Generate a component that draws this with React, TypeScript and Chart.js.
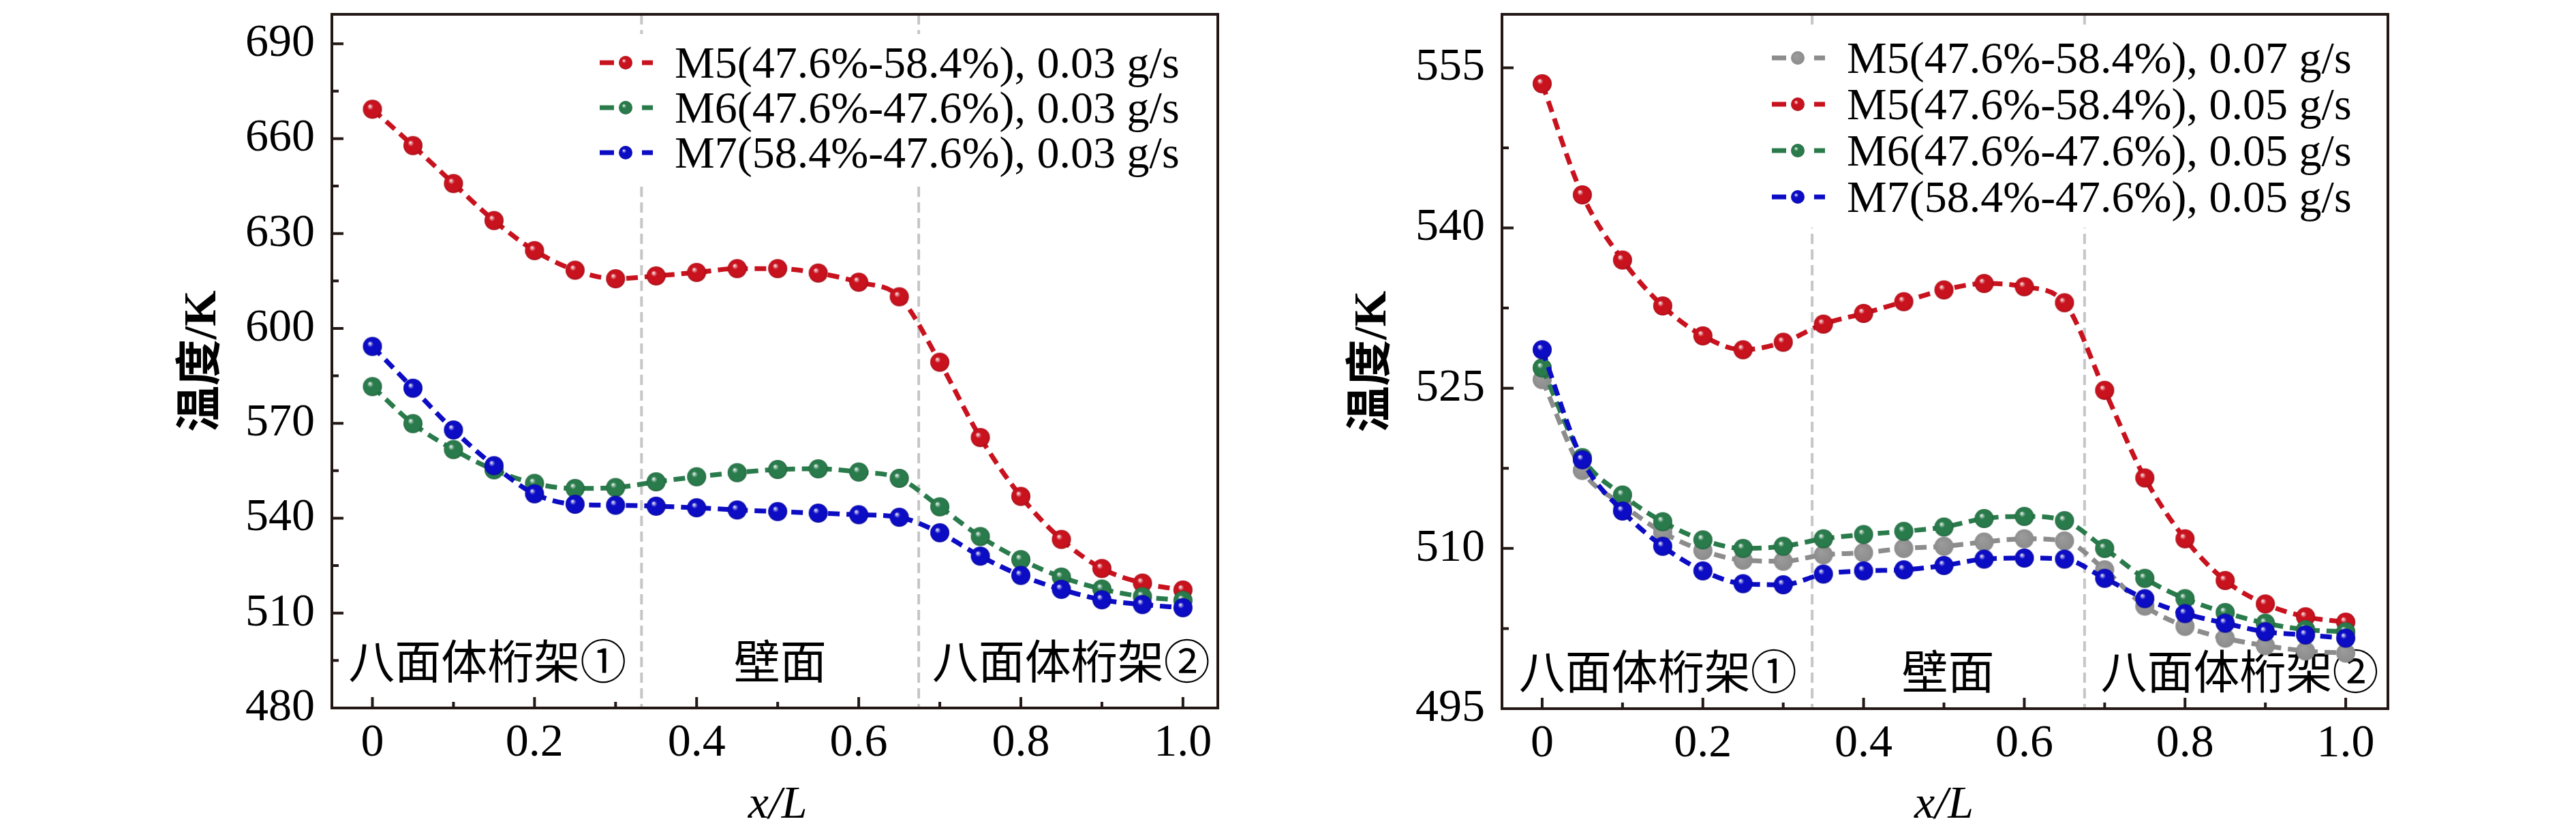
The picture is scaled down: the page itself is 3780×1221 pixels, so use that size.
import React, { useEffect, useRef } from 'react';
import { Chart, registerables } from 'chart.js';

Chart.register(...registerables);

const W = 1890;
const H = 1221;
const FONT = "'Liberation Serif', 'Times New Roman', 'Noto Sans CJK SC', serif";

// x/L positions of the sampled points
const xValues = [0, 0.05, 0.1, 0.15, 0.2, 0.25, 0.3, 0.35, 0.4, 0.45, 0.5, 0.55, 0.6, 0.65, 0.7, 0.75, 0.8, 0.85, 0.9, 0.95, 1.0];

// Left panel (0.03 g/s)
const leftM5 = [669.3, 657.8, 645.8, 634.1, 624.6, 618.4, 615.7, 616.6, 617.7, 618.9, 618.9, 617.5, 614.6, 610.0, 589.3, 565.5, 546.9, 533.3, 524.1, 519.5, 517.3];
const leftM6 = [581.6, 569.9, 561.7, 555.3, 551.0, 549.4, 549.7, 551.5, 553.1, 554.4, 555.4, 555.6, 554.6, 552.6, 543.6, 534.2, 526.9, 521.4, 517.6, 515.2, 514.0];
const leftM7 = [594.3, 581.1, 567.9, 556.6, 547.7, 544.4, 544.1, 543.8, 543.3, 542.6, 542.1, 541.6, 541.1, 540.3, 535.4, 528.0, 521.9, 517.5, 514.2, 512.7, 511.7];

// Right panel
const rightM5g07 = [525.8, 517.3, 514.1, 511.5, 509.8, 508.9, 508.8, 509.4, 509.6, 510.0, 510.2, 510.6, 510.9, 510.7, 508.0, 504.6, 502.7, 501.6, 500.9, 500.4, 500.2];
const rightM5 = [553.5, 543.1, 537.0, 532.7, 529.9, 528.6, 529.3, 531.0, 532.0, 533.1, 534.2, 534.8, 534.5, 533.0, 524.8, 516.6, 510.9, 507.0, 504.8, 503.6, 503.1];
const rightM6 = [526.9, 518.5, 515.0, 512.5, 510.8, 510.0, 510.2, 510.9, 511.3, 511.6, 512.0, 512.8, 513.0, 512.6, 510.0, 507.2, 505.3, 504.0, 503.0, 502.4, 502.2];
const rightM7 = [528.6, 518.3, 513.5, 510.2, 507.9, 506.7, 506.6, 507.6, 507.9, 508.0, 508.4, 509.0, 509.1, 509.0, 507.2, 505.3, 503.9, 503.0, 502.2, 501.9, 501.6];

const leftLabels = ['M5(47.6%-58.4%), 0.03 g/s', 'M6(47.6%-47.6%), 0.03 g/s', 'M7(58.4%-47.6%), 0.03 g/s'];
const rightLabels = ['M5(47.6%-58.4%), 0.07 g/s', 'M5(47.6%-58.4%), 0.05 g/s', 'M6(47.6%-47.6%), 0.05 g/s', 'M7(58.4%-47.6%), 0.05 g/s'];

const xTicks = [0, 0.2, 0.4, 0.6, 0.8, 1.0];
const leftYTicks = [480, 510, 540, 570, 600, 630, 660, 690];
const rightYTicks = [495, 510, 525, 540, 555];

const regionNames = ['八面体桁架①', '壁面', '八面体桁架②'];
const leftRegionX = [0.142, 0.503, 0.862];
const rightRegionX = [0.144, 0.505, 0.868];
const leftBoundaries = [0.332, 0.674];
const rightBoundaries = [0.336, 0.675];

const yTitle = '温度/K';
const xTitle = 'x/L';

const RED = '#c8121e';
const GREEN = '#2a7b4c';
const BLUE = '#0c0cc4';
const GRAY = '#8c8c8c';
const AXIS = '#231815';

function shade(hex: string, f: number): string {
  const n = parseInt(hex.slice(1), 16);
  const r = (n >> 16) & 255, g = (n >> 8) & 255, b = n & 255;
  const m = (v: number) => Math.max(0, Math.min(255, Math.round(f < 1 ? v * f : v + (255 - v) * (f - 1))));
  return `rgb(${m(r)},${m(g)},${m(b)})`;
}

function makeBall(color: string, r: number, highlight: boolean): HTMLCanvasElement {
  const c = document.createElement('canvas');
  const s = Math.ceil(r * 2 + 2);
  c.width = s;
  c.height = s;
  const ctx = c.getContext('2d')!;
  const cx = s / 2, cy = s / 2;
  const g = ctx.createRadialGradient(cx - r * 0.3, cy - r * 0.35, 0, cx, cy, r);
  if (highlight) {
    g.addColorStop(0, '#ffffff');
    g.addColorStop(0.16, shade(color, 1.5));
    g.addColorStop(0.32, color);
    g.addColorStop(0.85, color);
    g.addColorStop(1, shade(color, 0.8));
  } else {
    g.addColorStop(0, shade(color, 1.15));
    g.addColorStop(1, color);
  }
  ctx.fillStyle = g;
  ctx.beginPath();
  ctx.arc(cx, cy, r, 0, Math.PI * 2);
  ctx.fill();
  return c;
}

interface SeriesDef { label: string; values: number[]; color: string; order: number; highlight: boolean }

interface PanelDef {
  series: SeriesDef[];
  yMin: number; yMax: number; yTicks: number[];
  xMin: number; xMax: number;
  plotLeft: number; plotRight: number; plotTop: number; plotBottom: number;
  boundaries: number[];
  regionX: number[]; regionPixY: number;
  legendCapTop: number; legendStep: number; legendRightOffset: number;
}

function minorsOf(ticks: number[]): number[] {
  const out: number[] = [];
  for (let i = 0; i < ticks.length - 1; i++) out.push((ticks[i] + ticks[i + 1]) / 2);
  return out;
}

function makeDecor(p: PanelDef) {
  return {
    id: 'decor',
    beforeDatasetsDraw(chart: any) {
      const { ctx, chartArea: a, scales } = chart;
      const x = scales.x;
      ctx.save();
      ctx.strokeStyle = '#c6c6c6';
      ctx.lineWidth = 4;
      ctx.setLineDash([15, 8]);
      for (const b of p.boundaries) {
        const px = x.getPixelForValue(b);
        ctx.beginPath();
        ctx.moveTo(px, a.top);
        ctx.lineTo(px, a.bottom);
        ctx.stroke();
      }
      ctx.setLineDash([]);
      ctx.font = `68px ${FONT}`;
      ctx.fillStyle = '#000';
      ctx.textAlign = 'center';
      ctx.textBaseline = 'middle';
      regionNames.forEach((t, i) => {
        ctx.fillText(t, x.getPixelForValue(p.regionX[i]), p.regionPixY);
      });
      ctx.restore();
    },
    afterDatasetsDraw(chart: any) {
      const { ctx, chartArea: a, scales } = chart;
      const x = scales.x, y = scales.y;
      ctx.save();
      // legend
      const n = p.series.length;
      const cx = a.right - p.legendRightOffset;
      const firstCap = a.top + p.legendCapTop;
      const lastCap = firstCap + (n - 1) * p.legendStep;
      ctx.fillStyle = '#ffffff';
      ctx.fillRect(cx - 50, firstCap - 42, a.right - 8 - (cx - 50), lastCap + 45 - (firstCap - 42));
      ctx.font = `66px ${FONT}`;
      ctx.textAlign = 'left';
      ctx.textBaseline = 'alphabetic';
      p.series.forEach((s, i) => {
        const ry = firstCap + i * p.legendStep;
        ctx.strokeStyle = s.color;
        ctx.lineWidth = 7;
        ctx.beginPath();
        ctx.moveTo(cx - 38, ry); ctx.lineTo(cx - 17, ry);
        ctx.moveTo(cx + 24, ry); ctx.lineTo(cx + 40, ry);
        ctx.stroke();
        const ball = makeBall(s.color, 10, s.highlight);
        ctx.drawImage(ball, cx - ball.width / 2, ry - ball.height / 2);
        ctx.fillStyle = '#000';
        ctx.fillText(s.label, cx + 72, ry + 22);
      });
      // frame
      ctx.strokeStyle = AXIS;
      ctx.lineWidth = 4;
      ctx.strokeRect(a.left, a.top, a.right - a.left, a.bottom - a.top);
      // inward ticks
      ctx.beginPath();
      for (const v of xTicks) { const px = x.getPixelForValue(v); ctx.moveTo(px, a.bottom); ctx.lineTo(px, a.bottom - 16); }
      for (const v of minorsOf(xTicks)) { const px = x.getPixelForValue(v); ctx.moveTo(px, a.bottom); ctx.lineTo(px, a.bottom - 9); }
      for (const v of p.yTicks) { const py = y.getPixelForValue(v); ctx.moveTo(a.left, py); ctx.lineTo(a.left + 17, py); }
      for (const v of minorsOf(p.yTicks)) { const py = y.getPixelForValue(v); ctx.moveTo(a.left, py); ctx.lineTo(a.left + 10, py); }
      ctx.stroke();
      // axis titles
      ctx.fillStyle = '#000';
      ctx.textAlign = 'center';
      ctx.textBaseline = 'middle';
      ctx.save();
      ctx.translate(a.left - 189, (a.top + a.bottom) / 2);
      ctx.rotate(-Math.PI / 2);
      ctx.font = `bold 68px ${FONT}`;
      ctx.fillText(yTitle, 0, 0);
      ctx.restore();
      ctx.font = `italic 68px ${FONT}`;
      ctx.fillText(xTitle, x.getPixelForValue(0.5), 1182);
      ctx.restore();
    },
  };
}

function buildChart(canvas: HTMLCanvasElement, p: PanelDef): Chart {
  const datasets = p.series.map((s) => ({
    label: s.label,
    data: xValues.map((xv, j) => ({ x: xv, y: s.values[j] })),
    borderColor: s.color,
    backgroundColor: s.color,
    borderWidth: 7,
    borderDash: [17, 10],
    cubicInterpolationMode: 'monotone' as const,
    pointStyle: makeBall(s.color, 14, s.highlight) as any,
    pointRadius: 14,
    fill: false,
    order: s.order,
  }));
  return new Chart(canvas, {
    type: 'line',
    data: { datasets },
    options: {
      responsive: false,
      animation: false,
      events: [],
      layout: { padding: { left: 0, top: p.plotTop, right: W - p.plotRight, bottom: 0 } },
      plugins: { legend: { display: false }, tooltip: { enabled: false } },
      scales: {
        x: {
          type: 'linear',
          min: p.xMin,
          max: p.xMax,
          grid: { display: false, drawTicks: false },
          border: { display: false },
          ticks: {
            font: { family: FONT, size: 68 },
            color: '#000',
            padding: 11,
            maxRotation: 0,
            callback: (v: any) => (Number(v) === 0 ? '0' : Number(v).toFixed(1)),
          },
          afterBuildTicks: (s: any) => { s.ticks = xTicks.map((v) => ({ value: v })); },
          afterFit: (s: any) => { s.height = H - p.plotBottom; s.paddingLeft = 0; s.paddingRight = 0; },
        },
        y: {
          type: 'linear',
          min: p.yMin,
          max: p.yMax,
          grid: { display: false, drawTicks: false },
          border: { display: false },
          ticks: {
            font: { family: FONT, size: 68 },
            color: '#000',
            padding: 25,
            callback: (v: any) => String(v),
          },
          afterBuildTicks: (s: any) => { s.ticks = p.yTicks.map((v) => ({ value: v })); },
          afterFit: (s: any) => { s.width = p.plotLeft; s.paddingTop = 0; s.paddingBottom = 0; },
        },
      },
    },
    plugins: [makeDecor(p)],
  });
}

const leftPanel: PanelDef = {
  series: [
    { label: leftLabels[0], values: leftM5, color: RED, order: 3, highlight: true },
    { label: leftLabels[1], values: leftM6, color: GREEN, order: 2, highlight: true },
    { label: leftLabels[2], values: leftM7, color: BLUE, order: 1, highlight: true },
  ],
  yMin: 480, yMax: 699.3, yTicks: leftYTicks,
  xMin: -0.05, xMax: 1.043,
  plotLeft: 487, plotRight: 1787, plotTop: 5, plotBottom: 1039,
  boundaries: leftBoundaries,
  regionX: leftRegionX, regionPixY: 978,
  legendCapTop: 71, legendStep: 66, legendRightOffset: 869,
};

const rightPanel: PanelDef = {
  series: [
    { label: rightLabels[0], values: rightM5g07, color: GRAY, order: 4, highlight: false },
    { label: rightLabels[1], values: rightM5, color: RED, order: 3, highlight: true },
    { label: rightLabels[2], values: rightM6, color: GREEN, order: 2, highlight: true },
    { label: rightLabels[3], values: rightM7, color: BLUE, order: 1, highlight: true },
  ],
  yMin: 495, yMax: 560, yTicks: rightYTicks,
  xMin: -0.05, xMax: 1.0525,
  plotLeft: 314, plotRight: 1614, plotTop: 5, plotBottom: 1040,
  boundaries: rightBoundaries,
  regionX: rightRegionX, regionPixY: 993,
  legendCapTop: 64, legendStep: 68, legendRightOffset: 866,
};

export default function App() {
  const leftRef = useRef<HTMLCanvasElement>(null);
  const rightRef = useRef<HTMLCanvasElement>(null);

  useEffect(() => {
    const c1 = buildChart(leftRef.current!, leftPanel);
    const c2 = buildChart(rightRef.current!, rightPanel);
    return () => { c1.destroy(); c2.destroy(); };
  }, []);

  return (
    <div style={{ position: 'absolute', left: 0, top: 0, width: 3780, height: 1221, background: '#fff' }}>
      <canvas ref={leftRef} width={W} height={H} style={{ position: 'absolute', left: 0, top: 0 }} />
      <canvas ref={rightRef} width={W} height={H} style={{ position: 'absolute', left: W, top: 0 }} />
    </div>
  );
}
